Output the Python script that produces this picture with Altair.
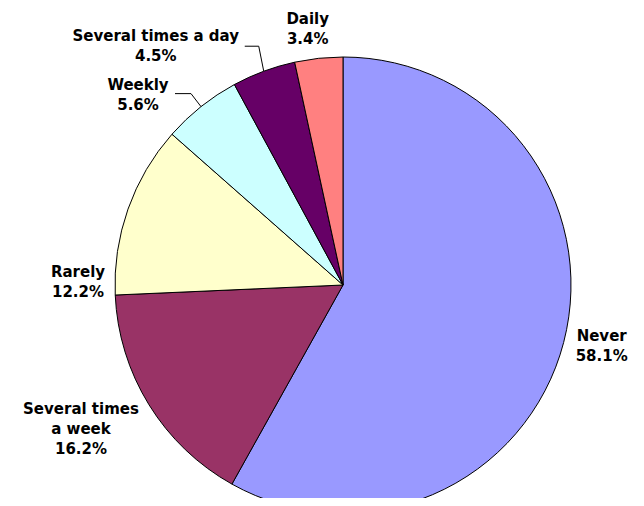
import math
import altair as alt
import pandas as pd

categories = ["Never", "Several times a week", "Rarely", "Weekly", "Several times a day", "Daily"]
values = [58.1, 16.2, 12.2, 5.6, 4.5, 3.4]
label_texts = ["Never\n58.1%", "Several times\na week\n16.2%", "Rarely\n12.2%",
               "Weekly\n5.6%", "Several times a day\n4.5%", "Daily\n3.4%"]
colors = ["#9999FF", "#993366", "#FFFFCC", "#CCFFFF", "#660066", "#FF8080"]

# layout
W, H = 586, 426
CX, CY = W / 2, H / 2
R = 228
LH = 20
label_offset = {
    "Never": (38, 4),
    "Several times a week": (-68, 24),
    "Rarely": (-50, 73),
    "Weekly": (-63, -12),
    "Several times a day": (-108, -25),
    "Daily": (-11, -29),
}
leader_shape = {
    "Weekly": [(0, 0), (-10, -13), (-26, -13)],
    "Several times a day": [(0, 0), (-5, -25), (-19, -25)],
}

total = sum(values)
mids = []
cum = 0.0
for v in values:
    mids.append((cum + v / 2) / total * 2 * math.pi)
    cum += v

df = pd.DataFrame({"cat": categories, "value": values, "idx": list(range(len(values)))})

lab_rows = []
for c, t, m in zip(categories, label_texts, mids):
    ax = CX + R * math.sin(m)
    ay = CY - R * math.cos(m)
    dx, dy = label_offset[c]
    n = t.count("\n") + 1
    lab_rows.append({"cat": c, "text": t, "lx": ax + dx, "ly": ay + dy - (n - 1) * LH / 2})
lab_df = pd.DataFrame(lab_rows)

lead_rows = []
for c, m in zip(categories, mids):
    if c in leader_shape:
        ax = CX + R * math.sin(m)
        ay = CY - R * math.cos(m)
        for i, (ox, oy) in enumerate(leader_shape[c]):
            lead_rows.append({"cat": c, "i": i, "px": ax + ox, "py": ay + oy})
lead_df = pd.DataFrame(lead_rows)

pie = alt.Chart(df).mark_arc(radius=R, stroke="black", strokeWidth=1).encode(
    theta=alt.Theta("value:Q", stack=True),
    color=alt.Color("cat:N", scale=alt.Scale(domain=categories, range=colors), legend=None),
    order=alt.Order("idx:Q", sort="ascending"),
)

labels = alt.Chart(lab_df).mark_text(
    font="DejaVu Sans", fontWeight="bold", fontSize=15, lineBreak="\n",
    lineHeight=LH, align="center", baseline="middle", color="black",
).encode(
    x=alt.X("lx:Q", scale=None, axis=None),
    y=alt.Y("ly:Q", scale=None, axis=None),
    text="text:N",
)

leaders = alt.Chart(lead_df).mark_line(color="black", strokeWidth=1).encode(
    x=alt.X("px:Q", scale=None, axis=None),
    y=alt.Y("py:Q", scale=None, axis=None),
    detail="cat:N",
    order="i:Q",
)

chart = alt.layer(pie, leaders, labels).properties(
    width=W, height=H,
    autosize=alt.AutoSizeParams(type="none"),
    padding={"left": 42, "top": 64, "right": 0, "bottom": 0},
    background="white",
).configure_view(stroke=None)

chart.save("out.html", embed_options={"renderer": "svg", "actions": False})
